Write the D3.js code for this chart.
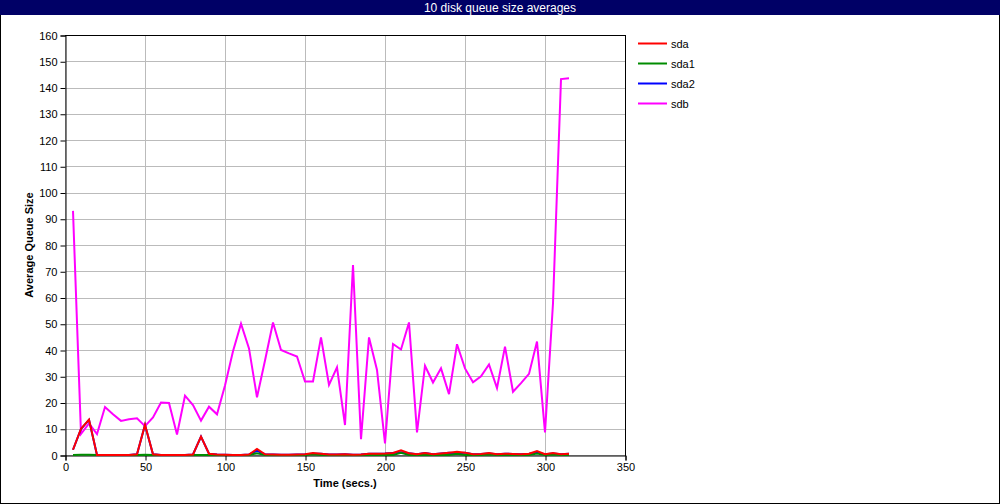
<!DOCTYPE html>
<html><head><meta charset="utf-8">
<script src="https://cdn.jsdelivr.net/npm/d3@7"></script>
<style>body{margin:0;background:#fff}svg{display:block}text{font-family:"Liberation Sans",Arial,sans-serif}</style>
</head><body><svg id="c" width="1000" height="504"></svg>
<script>
const title = "10 disk queue size averages";
const xLabel = "Time (secs.)";
const yLabel = "Average Queue Size";
const seriesNames = ["sda","sda1","sda2","sdb"];
const seriesColors = ["#ff0000","#008c00","#0000ff","#ff00ff"];
const xTicks = [0,50,100,150,200,250,300,350];
const yTicks = [0,10,20,30,40,50,60,70,80,90,100,110,120,130,140,150,160];
const times = [5,10,15,20,25,30,35,40,45,50,55,60,65,70,75,80,85,90,95,100,105,110,115,120,125,130,135,140,145,150,155,160,165,170,175,180,185,190,195,200,205,210,215,220,225,230,235,240,245,250,255,260,265,270,275,280,285,290,295,300,305,310,315];
const sda = [2,10,13.5,0,0,0,0,0,0.3,11.5,0.3,0,0,0,0,0.2,7,0.5,0.2,0.1,0,0,0.2,2.3,0.3,0.2,0.1,0.1,0.2,0.3,0.8,0.5,0.2,0.2,0.3,0.1,0.2,0.5,0.5,0.6,0.8,1.8,0.7,0.3,0.8,0.3,0.6,0.9,1.2,0.9,0.3,0.4,0.8,0.3,0.5,0.4,0.3,0.5,1.5,0.3,0.8,0.3,0.5];
const sda1 = [0,0.1,0.1,0,0,0,0,0,0,0.1,0,0,0,0,0,0,0,0,0,0,0,0,0,0.7,0,0,0,0,0,0,0.3,0,0,0,0,0,0,0,0,0,0,0.8,0,0,0,0,0,0,0.5,0,0,0,0.2,0,0,0,0,0,0.6,0,0.2,0,0];
const sda2 = [2,9.9,13.4,0,0,0,0,0,0.3,11.4,0.3,0,0,0,0,0.2,7,0.5,0.2,0.1,0,0,0.2,1.6,0.3,0.2,0.1,0.1,0.2,0.3,0.5,0.5,0.2,0.2,0.3,0.1,0.2,0.5,0.5,0.6,0.8,1.0,0.7,0.3,0.8,0.3,0.6,0.9,0.7,0.9,0.3,0.4,0.6,0.3,0.5,0.4,0.3,0.5,0.9,0.3,0.6,0.3,0.5];
const sdb = [93,8,12,8,18.3,15.5,13,13.6,14,11,14.3,20,19.8,7.8,22.6,19,13.1,18.4,15.5,26.5,39.5,50,40.6,22,36,50.5,40,38.7,37.5,28,28,44.8,26.7,33.4,11.4,72.4,6,44.8,32.4,4.4,42.3,40.2,50.5,8.6,34,27.6,33,23.2,42.2,33,27.7,30,34.5,25.5,41.3,24.1,27.4,30.9,43.2,8.6,57.8,143.2,143.5];
const seriesValues = [sda, sda1, sda2, sdb];

const svg = d3.select("#c");
const x = d3.scaleLinear().domain([0,350]).range([65,625]);
const y = d3.scaleLinear().domain([0,160]).range([455,35]);

// outer border + title bar
svg.append("rect").attr("x",0.5).attr("y",0.5).attr("width",999).attr("height",503).attr("fill","#fff").attr("stroke","#000");
svg.append("rect").attr("x",0).attr("y",0).attr("width",1000).attr("height",15).attr("fill","#000066");
svg.append("text").attr("x",500).attr("y",12).attr("text-anchor","middle").attr("fill","#fff").attr("font-size",12).text(title);

// grid
const g = svg.append("g");
g.selectAll(".hg").data(yTicks).join("line").attr("x1",65).attr("x2",625)
  .attr("y1",d=>Math.round(y(d))+0.5).attr("y2",d=>Math.round(y(d))+0.5).attr("stroke","#bbbbbb").attr("stroke-width",1);
g.selectAll(".vg").data(xTicks).join("line").attr("y1",35).attr("y2",455)
  .attr("x1",d=>Math.round(x(d))+0.5).attr("x2",d=>Math.round(x(d))+0.5).attr("stroke","#bbbbbb").attr("stroke-width",1);

// axes
const yAxis = d3.axisLeft(y).tickValues(yTicks).tickSize(5).tickPadding(3).tickFormat(d3.format("d"));
const xAxis = d3.axisBottom(x).tickValues(xTicks).tickSize(5).tickPadding(3).tickFormat(d3.format("d"));
const ya = svg.append("g").attr("transform","translate(65.5,0.5)").call(yAxis);
const xa = svg.append("g").attr("transform","translate(0.5,455.5)").call(xAxis);
[ya,xa].forEach(a=>{a.select(".domain").attr("stroke","#000");a.selectAll(".tick line").attr("stroke","#000");
  a.selectAll("text").attr("font-size",11).attr("fill","#000").attr("font-family","Liberation Sans, Arial, sans-serif");});
// top & right frame
svg.append("line").attr("x1",65).attr("x2",625.5).attr("y1",35.5).attr("y2",35.5).attr("stroke","#000");
svg.append("line").attr("x1",625.5).attr("x2",625.5).attr("y1",35).attr("y2",456).attr("stroke","#000");

// lines (draw in reverse legend order)
const line = d3.line().x((d,i)=>x(times[i])).y(d=>y(d));
const order = [3,2,1,0];
order.forEach(k=>{
  svg.append("path").datum(seriesValues[k]).attr("d",line).attr("fill","none")
    .attr("stroke",seriesColors[k]).attr("stroke-width",2).attr("stroke-linejoin","miter");
});

// labels
svg.append("text").attr("x",345).attr("y",487).attr("text-anchor","middle").attr("font-size",11).attr("font-weight","bold").text(xLabel);
svg.append("text").attr("transform","translate(33,245) rotate(-90)").attr("text-anchor","middle").attr("font-size",11).attr("font-weight","bold").text(yLabel);

// legend
const lg = svg.append("g");
seriesNames.forEach((n,i)=>{
  const yy = 43.5 + i*20;
  lg.append("line").attr("x1",638).attr("x2",667).attr("y1",yy).attr("y2",yy).attr("stroke",seriesColors[i]).attr("stroke-width",2);
  lg.append("text").attr("x",671).attr("y",yy+4).attr("font-size",11).text(n);
});
</script></body></html>
